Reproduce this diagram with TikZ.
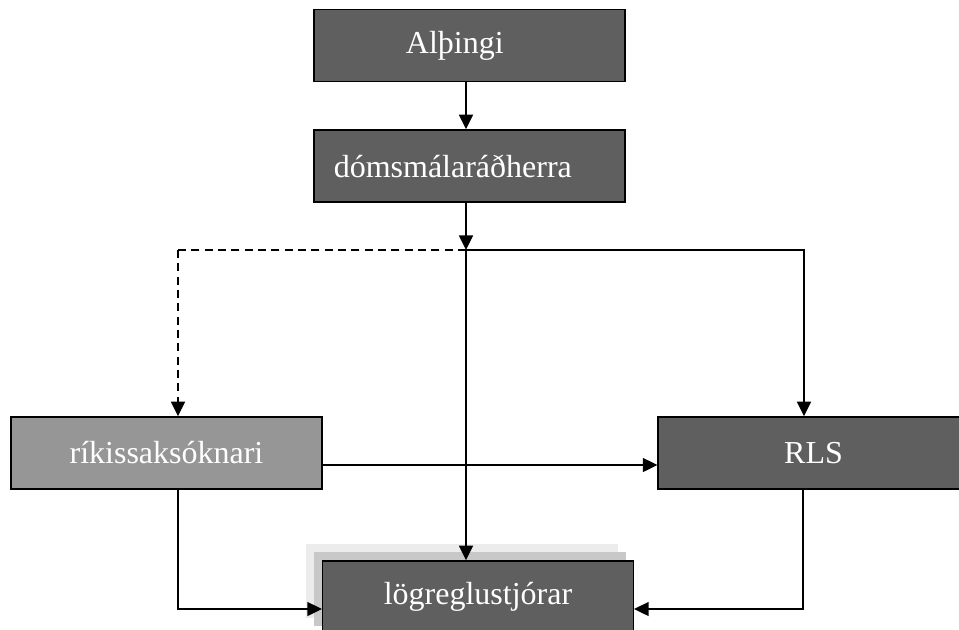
\documentclass[tikz,border=0pt]{standalone}
\usepackage{fontspec}
\setmainfont{Liberation Serif}
\usepackage{tikz}
\usetikzlibrary{arrows.meta,backgrounds,positioning}

\definecolor{boxdark}{RGB}{95,95,95}
\definecolor{boxlight}{RGB}{150,150,150}
\definecolor{shadowin}{RGB}{200,200,200}
\definecolor{shadowout}{RGB}{236,236,236}

\begin{document}
\begin{tikzpicture}[x=0.75pt,y=-0.75pt,
    darkbox/.style={rectangle, draw, line width=1.1pt, fill=boxdark, text=white,
      minimum width=233pt, minimum height=54pt, font=\fontsize{24}{28}\selectfont},
    lightbox/.style={darkbox, fill=boxlight},
    conn/.style={line width=1.2pt, -{Triangle[length=11pt,width=10.5pt]}},
    wire/.style={line width=1.2pt},
    dashline/.style={dash pattern=on 6pt off 4pt}]
        \useasboundingbox (0,0) rectangle (959,629);
        \node[darkbox] at (469.5,45.5) (alth) {Alþingi\hspace*{22pt}};
        \node[darkbox] at (469.5,166) (doms) {dómsmálaráðherra\hspace*{25pt}};
        \node[lightbox] at (166.5,453) (rikis) {ríkissaksóknari};
        \node[darkbox] at (813.5,453) (rls) {RLS};
        \node[darkbox] at (478,597) (logr) {lögreglustjórar};
        % shadow behind the bottom box
        \begin{scope}[on background layer]
        \fill[shadowout] ([shift={(-16,-16)}]logr.south west) rectangle ([shift={(-16,-16)}]logr.north east);
        \fill[shadowin] ([shift={(-8,-8)}]logr.south west) rectangle ([shift={(-8,-8)}]logr.north east);
        \end{scope}
        \coordinate (split) at (466,250);
        \coordinate (lcorner) at (178,250);
        \coordinate (rcorner) at (804,250);
        \coordinate (lcol) at (178,0);
        \coordinate (rcol) at (803,0);
        \draw[conn] (alth.south -| split) -- (doms.north -| split);
        \draw[conn] (doms.south -| split) -- (split);
        \draw[wire,dashline] (split) -- (lcorner);
        \draw[conn,dashline] (lcorner) -- (lcorner |- rikis.north);
        \draw[conn] (split) -- (rcorner) -- (rcorner |- rls.north);
        \draw[conn] (split) -- (split |- logr.north);
        \draw[conn] ([yshift=-9pt]rikis.east) -- ([yshift=-9pt]rls.west);
        \draw[conn] (rikis.south -| lcol) |- ([yshift=-9pt]logr.west);
        \draw[conn] (rls.south -| rcol) |- ([yshift=-9pt]logr.east);
      \end{tikzpicture}
\end{document}
